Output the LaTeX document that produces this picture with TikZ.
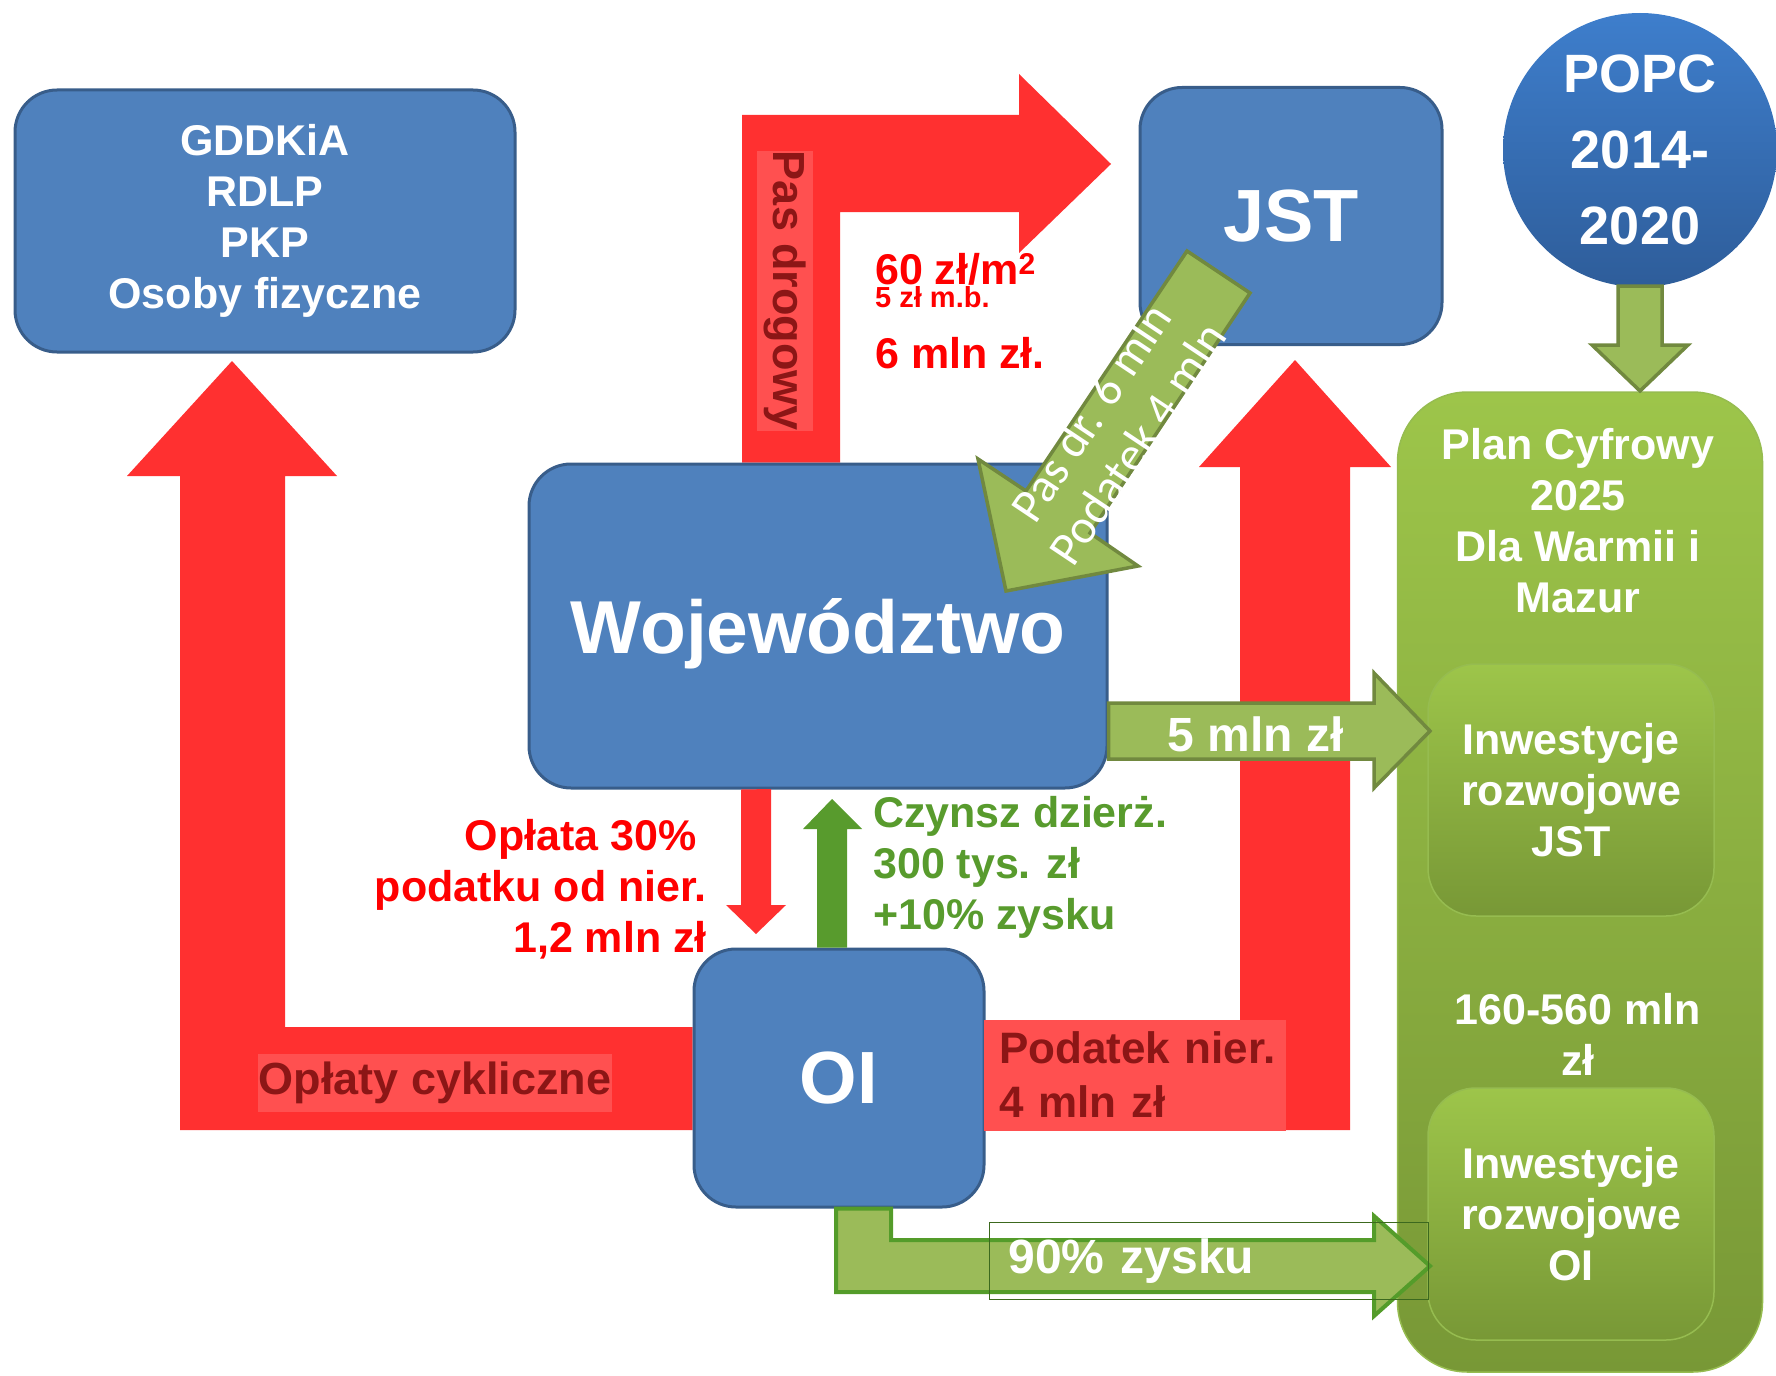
\documentclass[tikz,border=0pt]{standalone}
\usepackage{fontspec}
\setmainfont{Liberation Sans}
\newfontfamily\calibri{Carlito}
\usepackage{xcolor}
\usepackage{tikz}
\usetikzlibrary{backgrounds}

\definecolor{orgblue}{RGB}{79,129,189}
\definecolor{orgedge}{RGB}{56,93,138}
\definecolor{popctop}{RGB}{62,126,204}
\definecolor{popcbot}{RGB}{46,93,154}
\definecolor{plantop}{RGB}{157,197,74}
\definecolor{planbot}{RGB}{120,152,54}
\definecolor{planedge}{RGB}{150,188,80}
\definecolor{flowgreen}{RGB}{155,187,89}
\definecolor{flowedge}{RGB}{113,137,63}
\definecolor{profitedge}{RGB}{84,156,42}
\definecolor{rentgreen}{RGB}{88,155,45}
\definecolor{flowred}{RGB}{255,48,48}
\definecolor{labelred}{RGB}{255,80,80}
\definecolor{darkred}{RGB}{140,22,22}
\definecolor{boxline}{RGB}{60,105,30}

\newcommand{\fsize}[2]{\fontsize{#1}{#2}\selectfont}

\begin{document}
\begin{tikzpicture}[x=1pt, y=-1pt,
    type-org/.style={rectangle, rounded corners=42pt, draw=orgedge, line width=3pt, fill=orgblue, text=white, align=center, inner sep=0pt},
    type-plan/.style={rectangle, rounded corners=70pt, top color=plantop, bottom color=planbot, draw=planedge, line width=1.5pt},
    type-inv/.style={rectangle, rounded corners=48pt, top color=plantop, bottom color=planbot, draw=planedge, line width=1.5pt, minimum width=286pt, minimum height=252pt, text=white, align=center, font=\bfseries\fsize{43}{51}},
    type-label/.style={fill=labelred, text=darkred, inner sep=0pt, font=\bfseries\fsize{45}{54}},
    type-note/.style={inner sep=0pt, font=\bfseries\fsize{43}{51}},
    flow-red/.style={fill=flowred},
    flow-green/.style={fill=flowgreen, draw=flowedge, line width=3.5pt, line join=miter},
    flow-text/.style={text=white, inner sep=0pt, font=\bfseries\fsize{48}{56}}
  ]
  \useasboundingbox (0,0) rectangle (1776,1375);

  % blue boxes
  \node[type-org, minimum width=500pt, minimum height=262pt, font=\bfseries\fsize{43}{51}] (gddkia) at (265,221) {GDDKiA\\RDLP\\PKP\\Osoby fizyczne};
  \node[type-org, minimum width=578pt, minimum height=324pt, text depth=0pt, font=\bfseries\fsize{75}{80}] (woj) at (818,626) {Województwo};
  \node[type-org, minimum width=302pt, minimum height=257pt, font=\bfseries\fsize{74}{80}] (jst) at (1291,216) {JST};
  \node[type-org, minimum width=290pt, minimum height=258pt, font=\bfseries\fsize{74}{80}] (oi) at (839,1078) {OI};

  % red flows behind the boxes
  \begin{scope}[on background layer]
    \fill[flow-red] (woj.north -| 742,0) -- (742,115) -- (1019,115) -- (1019,74) -- (1111,164) -- (1019,253) -- (1019,212) -- (840,212) -- (woj.north -| 840,0) -- cycle;
    \fill[flow-red] (oi.west |- 0,1027) -- (285,1027) -- (285,476) -- (337,476) -- (232,361) -- (127,476) -- (180,476) -- (180,1130) -- (oi.west |- 0,1130) -- cycle;
    \fill[flow-red] (oi.east |- 0,1027) -- (1240,1027) -- (1240,467) -- (1199,467) -- (1295,360) -- (1391,467) -- (1350,467) -- (1350,1130) -- (oi.east |- 0,1130) -- cycle;
  \end{scope}
  \node[type-label, rotate=-90, minimum width=278pt, minimum height=56pt] (pas) at (785,291) {Pas drogowy};
  \node[type-label, minimum width=354pt, minimum height=58pt] (cykl) at (435,1083) {Opłaty cykliczne};
  \node[type-label, text width=292pt, inner xsep=5pt, minimum height=111pt, align=left, font=\bfseries\fsize{44}{54}] (podatek) at (1135,1075) {\hspace*{10pt}Podatek nier.\\\hspace*{10pt}4 mln zł};

  % notes
  \node[type-note, text=red, anchor=base west] (m2) at (875,284) {60 zł/m\textsuperscript{2}};
  \node[type-note, text=red, anchor=base west, font=\bfseries\fsize{29}{32}] (mb) at (875,307) {5 zł m.b.};
  \node[type-note, text=red, anchor=base west] (mln6) at (875,368) {6 mln zł.};
  \node[type-note, text=red, align=right, anchor=east] (oplata) at (707,889) {Opłata 30\%\hspace*{10pt}\\podatku od nier.\\1,2 mln zł};
  \node[type-note, text=rentgreen, align=left, anchor=west] (czynsz) at (873,867) {Czynsz dzierż.\\300 tys. zł\\+10\% zysku};

  % between Wojewodztwo and OI
  \fill[flow-red] (woj.south -| 741,0) -- (771,789) -- (771,905) -- (786,905) -- (756,934) -- (726,905) -- (741,905) -- cycle;
  \fill[rentgreen] (oi.north -| 817,0) -- (817,829) -- (803,829) -- (832,799) -- (862,829) -- (847,829) -- (oi.north -| 847,0) -- cycle;

  % plan
  \node[type-plan, minimum width=365pt, minimum height=980pt] (plan) at (1580,882) {};
  \node[text=white, align=center, inner sep=0pt, font=\bfseries\fsize{43}{51}] (plantitle) at (1578,521) {Plan Cyfrowy\\2025\\Dla Warmii i\\Mazur};
  \node[type-inv] (invjst) at (1571,790) {Inwestycje\\rozwojowe\\JST};
  \node[text=white, align=center, inner sep=0pt, font=\bfseries\fsize{43}{51}] (kwota) at (1578,1034) {160-560 mln\\zł};
  \node[type-inv] (invoi) at (1571,1214) {Inwestycje\\rozwojowe\\OI};

  \node[circle, minimum size=274pt, inner sep=0pt, top color=popctop, bottom color=popcbot, text=white, align=center, font=\bfseries\fsize{54}{76}] (popc) at (1640,150) {POPC\\2014-\\2020};
  \draw[flow-green] (1618,286) -- (1662,286) -- (1662,345) -- (1688,345) -- (1640,391) -- (1592,345) -- (1618,345) -- cycle;

  % green flows
  \draw[flow-green] (woj.east |- 0,703) -- (1374,703) -- (1374,673) -- (1430,731) -- (1374,788) -- (1374,759) -- (woj.east |- 0,759) -- cycle;
  \node[flow-text] (five) at (1256,734) {5 mln zł};

  \draw[flow-green] (1187,251) -- (1250,293) -- (1090,533) -- (1138,566) -- (1006,591) -- (978,459) -- (1026,491) -- cycle;
  \node[flow-text, font=\calibri\fsize{48}{56}, rotate=56.25, align=center] (pasdr) at (1114,428) {Pas dr. 6 mln\\Podatek 4 mln};

  \draw[flow-green, draw=profitedge, line width=4pt] (oi.south -| 836,0) -- (oi.south -| 891,0) -- (891,1240) -- (1374,1240) -- (1374,1216) -- (1430,1266) -- (1374,1316) -- (1374,1292) -- (836,1292) -- cycle;
  \node[draw=boxline, line width=1.2pt, text width=401pt, inner xsep=19pt, minimum height=77pt, align=left, anchor=west, text=white, font=\bfseries\fsize{48}{56}] (zysk) at (989,1261) {90\% zysku};
\end{tikzpicture}
\end{document}
